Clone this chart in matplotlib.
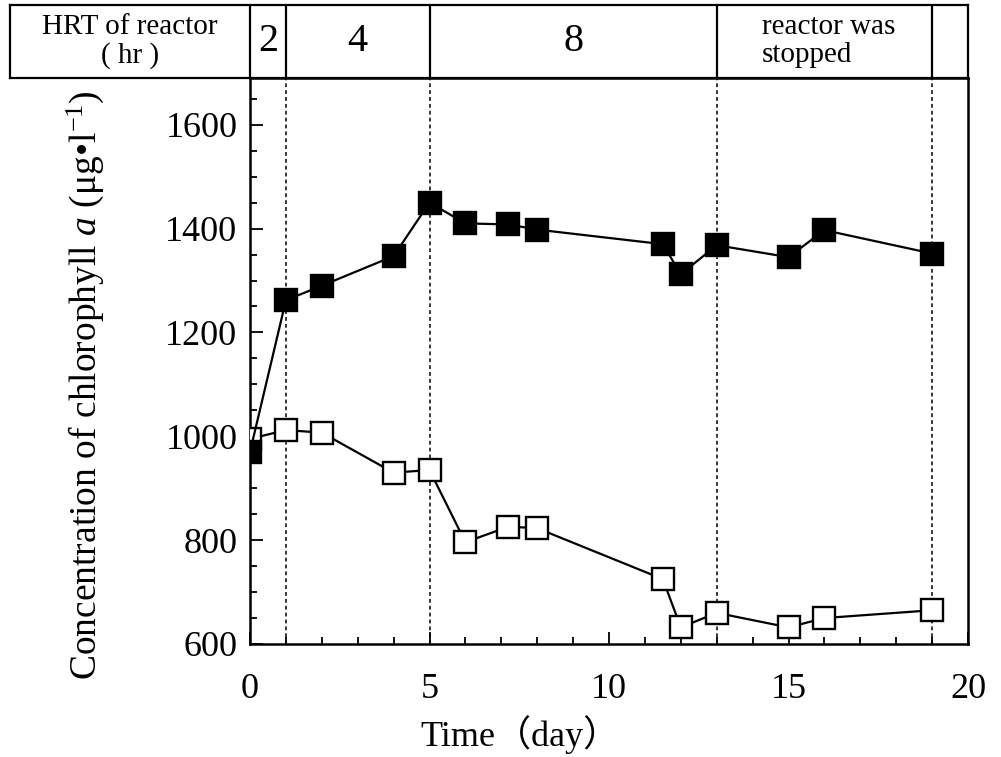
import numpy as np
import matplotlib
matplotlib.use("Agg")
import matplotlib.pyplot as plt
from matplotlib.ticker import MultipleLocator

plt.rcParams['font.family'] = ['Liberation Serif', 'Noto Sans CJK JP']
plt.rcParams['mathtext.fontset'] = 'custom'
plt.rcParams['mathtext.rm'] = 'Liberation Serif'
plt.rcParams['mathtext.it'] = 'Liberation Serif:italic'

# data
day_filled = [0, 1, 2, 4, 5, 6, 7.2, 8, 11.5, 12, 13, 15, 16, 19]
chl_filled = [970, 1262, 1290, 1347, 1450, 1410, 1408, 1398, 1370, 1312, 1368, 1345, 1397, 1352]
day_open = [0, 1, 2, 4, 5, 6, 7.2, 8, 11.5, 12, 13, 15, 16, 19]
chl_open = [995, 1012, 1007, 930, 935, 796, 826, 823, 725, 632, 660, 632, 650, 665]

# HRT phases (boundaries in days) and header labels
phase_edges = [0, 1, 5, 13, 19, 20]
phase_labels = ["2", "4", "8", "", ""]
stop_text = "reactor was\nstopped"

W, H = 1001, 757
fig = plt.figure(figsize=(W / 100, H / 100), dpi=100)

# main axes (pixel box: x 250..968, y 78..644)
ax_l, ax_r, ax_t, ax_b = 250, 968, 78, 644
ax = fig.add_axes([ax_l / W, 1 - ax_b / H, (ax_r - ax_l) / W, (ax_b - ax_t) / H])

ax.plot(day_open, chl_open, '-', color='black', lw=1.6, marker='s', ms=15.5,
        mfc='white', mec='black', mew=1.7, zorder=3)
ax.plot(day_filled, chl_filled, '-', color='black', lw=1.6, marker='s', ms=15.5,
        mfc='black', mec='black', mew=1.7, zorder=4)

for x in phase_edges[1:-1]:
    ax.axvline(x, color='black', lw=1.1, ls=(0, (2.5, 2)), zorder=1)

ax.set_xlim(0, 20)
ax.set_ylim(600, 1690)
ax.xaxis.set_major_locator(MultipleLocator(5))
ax.xaxis.set_minor_locator(MultipleLocator(1))
ax.yaxis.set_major_locator(MultipleLocator(200))
ax.yaxis.set_minor_locator(MultipleLocator(50))
ax.tick_params(which='both', direction='in', width=1.3, top=False, right=False)
ax.tick_params(which='major', length=9)
ax.tick_params(which='minor', length=5)
ax.tick_params(axis='x', which='major', pad=21, labelsize=26)
ax.tick_params(axis='y', which='major', pad=9, labelsize=26)
ax.set_yticks([600, 800, 1000, 1200, 1400, 1600])
for s in ax.spines.values():
    s.set_linewidth(1.8)

ax.set_xlabel("Time（day）", fontsize=26)
ax.xaxis.set_label_coords(0.376, -0.125)
ax.set_ylabel(r"Concentration of chlorophyll $a$ (μg•l$^{-1}$)", fontsize=27)
ax.yaxis.set_label_coords(-0.2, 0.457)

# header table above the axes
hd_l, hd_t = 10, 5
hx = fig.add_axes([hd_l / W, 1 - ax_t / H, (ax_r - hd_l) / W, (ax_t - hd_t) / H])
left_day = -(ax_l - hd_l) / (ax_r - ax_l) * 20
hx.set_xlim(left_day, 20)
hx.set_ylim(0, 1)
hx.set_xticks([])
hx.set_yticks([])
for s in hx.spines.values():
    s.set_linewidth(1.6)
for x in phase_edges[:-1]:
    hx.axvline(x, color='black', lw=1.6)

hx.text(left_day / 2, 0.5, "HRT of reactor\n( hr )", ha='center', va='center',
        fontsize=21, linespacing=1.1)
for i, lab in enumerate(phase_labels):
    if lab:
        hx.text((phase_edges[i] + phase_edges[i + 1]) / 2, 0.5, lab,
                ha='center', va='center', fontsize=29)
hx.text(phase_edges[3] + 1.25, 0.5, stop_text, ha='left', va='center',
        fontsize=21, linespacing=1.1)

fig.savefig("out.png", dpi=100)
